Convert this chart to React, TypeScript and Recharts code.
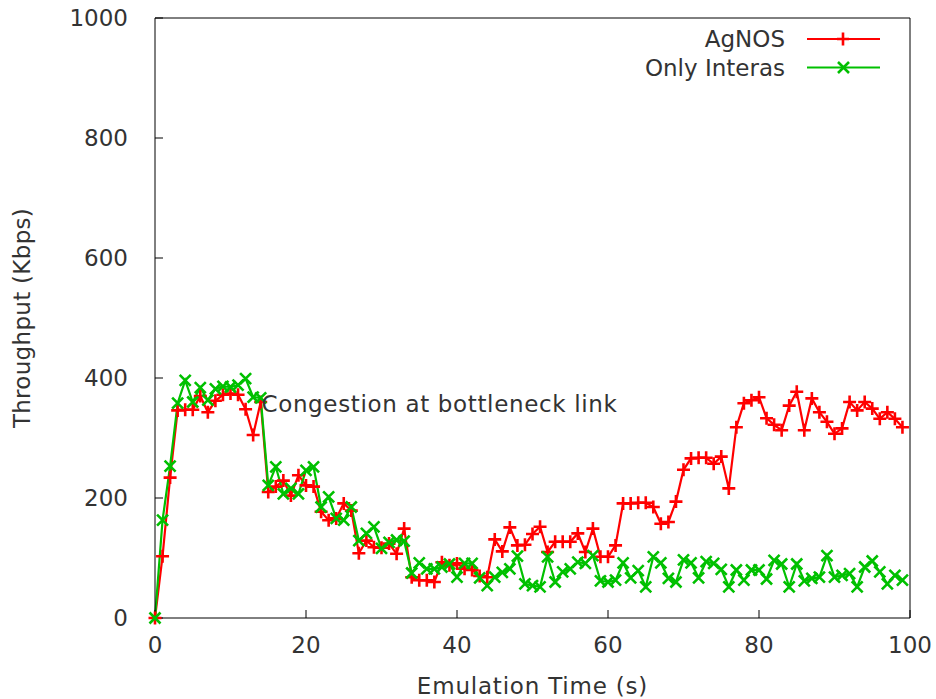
import React from 'react';
import { LineChart, Line, XAxis, YAxis, ReferenceDot } from 'recharts';

// emulation time (s)
const time = [
  0, 1, 2, 3, 4, 5, 6, 7, 8, 9, 10, 11, 12, 13, 14, 15, 16, 17, 18, 19,
  20, 21, 22, 23, 24, 25, 26, 27, 28, 29, 30, 31, 32, 33, 34, 35, 36, 37, 38, 39,
  40, 41, 42, 43, 44, 45, 46, 47, 48, 49, 50, 51, 52, 53, 54, 55, 56, 57, 58, 59,
  60, 61, 62, 63, 64, 65, 66, 67, 68, 69, 70, 71, 72, 73, 74, 75, 76, 77, 78, 79,
  80, 81, 82, 83, 84, 85, 86, 87, 88, 89, 90, 91, 92, 93, 94, 95, 96, 97, 98, 99,
];

// throughput (Kbps)
const agnos = [
  0, 103, 234, 346, 347, 347, 370, 343, 362, 372, 374, 372, 348, 305, 360, 210, 219, 229, 204, 238,
  221, 219, 177, 163, 166, 191, 179, 108, 129, 118, 117, 124, 107, 149, 68, 63, 63, 60, 93, 88,
  91, 82, 80, 70, 68, 131, 111, 151, 121, 122, 140, 152, 110, 127, 127, 127, 141, 110, 149, 102,
  102, 121, 191, 191, 192, 192, 185, 157, 160, 194, 247, 266, 267, 267, 257, 269, 216, 318, 358, 363,
  368, 333, 322, 313, 354, 377, 313, 366, 343, 327, 307, 316, 360, 346, 360, 349, 332, 343, 332, 318,
];

const onlyInteras = [
  0, 163, 253, 358, 396, 360, 384, 363, 382, 386, 385, 388, 399, 368, 367, 221, 252, 207, 216, 207,
  246, 252, 185, 202, 166, 163, 185, 129, 141, 152, 116, 126, 130, 128, 75, 92, 82, 82, 85, 90,
  68, 91, 91, 67, 54, 68, 76, 82, 103, 57, 54, 52, 102, 60, 77, 82, 93, 91, 104, 62,
  60, 63, 92, 67, 79, 52, 102, 92, 66, 60, 97, 92, 67, 94, 91, 81, 52, 80, 63, 80,
  80, 65, 96, 90, 52, 90, 62, 66, 68, 104, 68, 71, 74, 52, 85, 95, 77, 57, 71, 63,
];

const xTicks = [0, 20, 40, 60, 80, 100];
const yTicks = [0, 200, 400, 600, 800, 1000];

const note = { x: 14.1, y: 356, text: 'Congestion at bottleneck link' };

const data = time.map((t, i) => ({ t, agnos: agnos[i], interas: onlyInteras[i] }));

const FONT = '"DejaVu Sans", sans-serif';
const TEXT = '#333';
const RED = '#ff0000';
const GREEN = '#00c000';

const PlusDot = (props: any) => {
  const { cx, cy, index } = props;
  if (cx == null || cy == null) return <g key={`p${index}`} />;
  return (
    <path
      key={`p${index}`}
      d={`M${cx - 6.5},${cy}H${cx + 6.5}M${cx},${cy - 6.5}V${cy + 6.5}`}
      stroke={RED}
      strokeWidth={2.6}
      fill="none"
    />
  );
};

const CrossDot = (props: any) => {
  const { cx, cy, index } = props;
  if (cx == null || cy == null) return <g key={`x${index}`} />;
  return (
    <path
      key={`x${index}`}
      d={`M${cx - 5.5},${cy - 5.5}L${cx + 5.5},${cy + 5.5}M${cx - 5.5},${cy + 5.5}L${cx + 5.5},${cy - 5.5}`}
      stroke={GREEN}
      strokeWidth={2.6}
      fill="none"
    />
  );
};

function LegendBox() {
  const rows = [
    { name: 'AgNOS', color: RED, mark: 'plus' },
    { name: 'Only Interas', color: GREEN, mark: 'cross' },
  ];
  return (
    <svg
      width={936}
      height={100}
      style={{ position: 'absolute', left: 0, top: 0, pointerEvents: 'none' }}
    >
      {rows.map((r, i) => {
        const y = 39 + i * 28.5;
        return (
          <g key={r.name}>
            <text
              x={785}
              y={y}
              textAnchor="end"
              dominantBaseline="central"
              fontFamily={FONT}
              fontSize={23}
              fill={TEXT}
            >
              {r.name}
            </text>
            <line x1={807} x2={880} y1={y} y2={y} stroke={r.color} strokeWidth={2.2} />
            {r.mark === 'plus' ? (
              <path d={`M837,${y}H849M843,${y - 6.5}V${y + 6.5}`} stroke={r.color} strokeWidth={2.6} />
            ) : (
              <path
                d={`M838,${y - 5.5}L849,${y + 5.5}M838,${y + 5.5}L849,${y - 5.5}`}
                stroke={r.color}
                strokeWidth={2.6}
              />
            )}
          </g>
        );
      })}
    </svg>
  );
}

export default function App() {
  const tickStyle = { fill: TEXT, fontSize: 23, fontFamily: FONT };
  return (
    <div
      style={{
        position: 'absolute',
        left: 0,
        top: 0,
        width: 936,
        height: 699,
        background: '#fff',
        fontFamily: FONT,
      }}
    >
      <LineChart width={936} height={699} data={data} margin={{ top: 0, right: 0, bottom: 0, left: 0 }}>
        <XAxis
          xAxisId="b"
          dataKey="t"
          type="number"
          orientation="bottom"
          domain={[0, 100]}
          ticks={xTicks}
          height={81}
          stroke="#000"
          tickSize={-8}
          tickMargin={27}
          tick={tickStyle}
          label={{
            value: 'Emulation Time (s)',
            position: 'insideBottom',
            offset: 5,
            fill: TEXT,
            fontSize: 23,
            fontFamily: FONT,
            style: { letterSpacing: '0.8px' },
          }}
        />
        <XAxis
          xAxisId="t"
          dataKey="t"
          type="number"
          orientation="top"
          domain={[0, 100]}
          ticks={xTicks}
          height={18}
          stroke="#000"
          tickSize={-8}
          tick={false}
        />
        <YAxis
          yAxisId="l"
          type="number"
          domain={[0, 1000]}
          ticks={yTicks}
          width={155}
          stroke="#000"
          tickSize={-8}
          tickMargin={35}
          tick={tickStyle}
          label={{
            value: 'Throughput (Kbps)',
            angle: -90,
            position: 'insideLeft',
            offset: 22,
            fill: TEXT,
            fontSize: 23,
            fontFamily: FONT,
            style: { textAnchor: 'middle', letterSpacing: '0.3px' },
          }}
        />
        <YAxis
          yAxisId="r"
          orientation="right"
          type="number"
          domain={[0, 1000]}
          ticks={yTicks}
          width={26}
          stroke="#000"
          tickSize={-8}
          tick={false}
        />
        <Line
          xAxisId="b"
          yAxisId="l"
          type="linear"
          dataKey="agnos"
          stroke={RED}
          strokeWidth={2.2}
          dot={PlusDot}
          activeDot={false}
          isAnimationActive={false}
        />
        <Line
          xAxisId="b"
          yAxisId="l"
          type="linear"
          dataKey="interas"
          stroke={GREEN}
          strokeWidth={2.2}
          dot={CrossDot}
          activeDot={false}
          isAnimationActive={false}
        />
        <ReferenceDot
          xAxisId="b"
          yAxisId="l"
          x={note.x}
          y={note.y}
          r={0}
          shape={(p: any) => (
            <text
              x={p.cx}
              y={p.cy}
              dominantBaseline="central"
              fontFamily={FONT}
              fontSize={23}
              fill={TEXT}
              style={{ letterSpacing: '0.65px' }}
            >
              {note.text}
            </text>
          )}
        />
      </LineChart>
      <LegendBox />
    </div>
  );
}
